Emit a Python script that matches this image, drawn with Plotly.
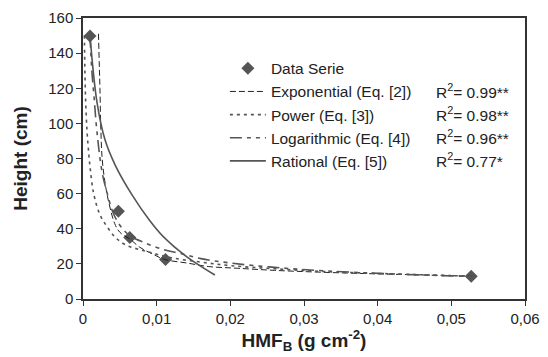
import plotly.graph_objects as go

# Data points
data_x = [0.00095, 0.0048, 0.00635, 0.0112, 0.0527]
data_y = [149.8, 50.0, 35.0, 22.5, 13.0]

# Fitted curves
exp_x = [0.0021, 0.0022, 0.0023, 0.0024, 0.0026, 0.0030, 0.0035, 0.0043, 0.0050, 0.0064, 0.0077, 0.0095, 0.0111, 0.0141, 0.0170, 0.0210, 0.0260, 0.0320, 0.0400, 0.0470, 0.0527]
exp_y = [151, 135, 120, 100, 80, 66, 55, 43, 38, 34, 29.5, 25.5, 22.5, 20.5, 18.5, 17.5, 16.3, 15.3, 14.3, 13.6, 13.0]

pow_x = [0.00019, 0.00025, 0.00035, 0.00054, 0.0008, 0.0010, 0.00145, 0.0023, 0.0033, 0.0043, 0.0057, 0.0087, 0.0120, 0.0160, 0.0200, 0.0260, 0.0330, 0.0420, 0.0527]
pow_y = [150, 132, 114, 96, 82, 73.5, 60, 48, 41, 35.5, 31, 27, 23.5, 21, 19, 17.2, 15.6, 14.3, 13.0]

log_x = [0.00095, 0.0012, 0.0015, 0.0019, 0.0026, 0.0033, 0.0040, 0.0050, 0.0064, 0.0084, 0.0110, 0.0132, 0.0160, 0.0200, 0.0260, 0.0330, 0.0420, 0.0527]
log_y = [150, 130, 115, 95, 72, 60, 50, 42, 36, 32, 28, 26, 23, 20.5, 18, 16, 14.3, 12.8]

rat_x = [0.00095, 0.0019, 0.0030, 0.0044, 0.0067, 0.0090, 0.0109, 0.0141, 0.0179]
rat_y = [150, 112, 90.5, 76, 59, 45, 35.5, 24, 13.7]

series_names = ["Data Serie", "Exponential (Eq. [2])", "Power (Eq. [3])",
                "Logarithmic (Eq. [4])", "Rational (Eq. [5])"]
r2_labels = ["R<sup>2</sup>= 0.99**", "R<sup>2</sup>= 0.98**",
             "R<sup>2</sup>= 0.96**", "R<sup>2</sup>= 0.77*"]
r2_rows = [0.741, 0.659, 0.577, 0.496]

x_tickvals = [0, 0.01, 0.02, 0.03, 0.04, 0.05, 0.06]
x_ticktext = ["0", "0,01", "0,02", "0,03", "0,04", "0,05", "0,06"]
y_tickvals = [0, 20, 40, 60, 80, 100, 120, 140, 160]

GRAY = "#555555"
FONT = "Liberation Sans, Arial, sans-serif"

fig = go.Figure()
fig.add_trace(go.Scatter(x=data_x, y=data_y, mode="markers", name=series_names[0],
                         marker=dict(symbol="diamond", size=10, color=GRAY)))
fig.add_trace(go.Scatter(x=exp_x, y=exp_y, mode="lines", name=series_names[1],
                         line=dict(color="#222222", width=1, dash="6px,3px"), line_shape="spline"))
fig.add_trace(go.Scatter(x=pow_x, y=pow_y, mode="lines", name=series_names[2],
                         line=dict(color=GRAY, width=1.6, dash="3px,4px"), line_shape="spline"))
fig.add_trace(go.Scatter(x=log_x, y=log_y, mode="lines", name=series_names[3],
                         line=dict(color=GRAY, width=1.6, dash="12px,5px,4px,5px,4px,5px"), line_shape="spline"))
fig.add_trace(go.Scatter(x=rat_x, y=rat_y, mode="lines", name=series_names[4],
                         line=dict(color=GRAY, width=1.6), line_shape="spline"))

for t, yy in zip(r2_labels, r2_rows):
    fig.add_annotation(text=t, xref="paper", yref="paper", x=0.793, y=yy,
                       xanchor="left", yanchor="middle", showarrow=False,
                       font=dict(family=FONT, size=15.5, color="#222"))

fig.update_layout(
    width=548, height=357,
    margin=dict(l=83, r=23, t=18, b=58, autoexpand=False),
    plot_bgcolor="white", paper_bgcolor="white",
    font=dict(family=FONT, size=15, color="#222"),
    showlegend=True,
    legend=dict(x=0.321, y=0.880, xanchor="left", yanchor="top",
                bgcolor="rgba(0,0,0,0)", font=dict(size=15.5, family=FONT, color="#222"),
                itemwidth=36, tracegroupgap=0),
    xaxis=dict(range=[0, 0.06], tickvals=x_tickvals, ticktext=x_ticktext, automargin=False,
               showgrid=False, zeroline=False, showline=True, linecolor="#333", linewidth=1.5,
               mirror=True, ticks="outside", ticklen=5, tickcolor="#333",
               title=dict(text="<b>HMF<sub>B</sub> (g cm<sup>-2</sup>)</b>", font=dict(size=19), standoff=6),
               tickfont=dict(size=15)),
    yaxis=dict(range=[0, 160], tickvals=y_tickvals, automargin=False,
               showgrid=False, zeroline=False, showline=True, linecolor="#333", linewidth=1.5,
               mirror=True, ticks="outside", ticklen=5, tickcolor="#333",
               title=dict(text="<b>Height (cm)</b>", font=dict(size=19), standoff=16),
               tickfont=dict(size=15)),
)

fig.write_html("out.html", config={"displayModeBar": False},
               post_script="document.body.style.margin='0';")
